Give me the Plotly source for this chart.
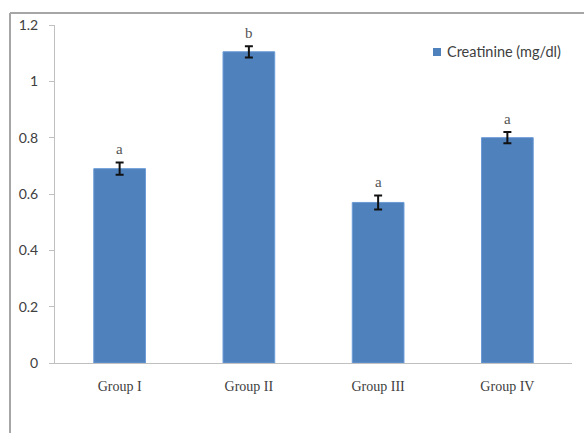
import plotly.graph_objects as go

# Serum creatinine by treatment group
groups = ["Group I", "Group II", "Group III", "Group IV"]
creatinine = [0.69, 1.105, 0.57, 0.80]
sem = [0.022, 0.02, 0.025, 0.02]
sig_letters = ["a", "b", "a", "a"]
series_name = "Creatinine (mg/dl)"

W, H = 584, 433
L, R, T, B = 55, 12, 25, 70
pw, ph = W - L - R, H - T - B
bar_color = "#4F81BD"

fig = go.Figure()
fig.add_trace(go.Bar(
    x=groups, y=creatinine,
    name=series_name,
    marker=dict(color=bar_color, line=dict(color="#6B9BD6", width=1)),
    error_y=dict(type="data", array=sem, visible=True,
                 color="#111111", thickness=2, width=4),
    width=0.4,
    showlegend=False,
))

for g, v, e, s in zip(groups, creatinine, sem, sig_letters):
    fig.add_annotation(x=g, y=v + e, text=s, showarrow=False,
                       yanchor="bottom", yshift=3,
                       font=dict(family="Liberation Serif", size=15, color="#555555"))

def px_x(x):
    return (x - L) / pw

def px_y(y):
    return 1 - (y - T) / ph

# legend key: small square followed by the series name
fig.add_shape(type="rect", xref="paper", yref="paper",
              x0=px_x(433), x1=px_x(441), y0=px_y(56), y1=px_y(48),
              fillcolor=bar_color, line=dict(width=0))
fig.add_annotation(xref="paper", yref="paper", x=px_x(445), y=px_y(52),
                   xanchor="left", yanchor="middle", showarrow=False,
                   text=series_name,
                   font=dict(family="Lato", size=14.5, color="#404040"))

# outer frame (left and top edges)
grey = "#A6A6A6"
fig.add_shape(type="line", xref="paper", yref="paper",
              x0=px_x(10), x1=px_x(10), y0=px_y(H), y1=px_y(13),
              line=dict(color=grey, width=2))
fig.add_shape(type="line", xref="paper", yref="paper",
              x0=px_x(10), x1=px_x(W), y0=px_y(13), y1=px_y(13),
              line=dict(color=grey, width=2))

fig.update_layout(
    width=W, height=H,
    margin=dict(l=L, r=R, t=T, b=B),
    paper_bgcolor="white", plot_bgcolor="white",
    showlegend=False,
    xaxis=dict(showline=True, linecolor="#C0C0C0", linewidth=1,
               ticks="", showgrid=False,
               tickfont=dict(family="Liberation Serif", size=14, color="#404040"),
               ticklabelstandoff=10),
    yaxis=dict(range=[0, 1.2], tickvals=[0, 0.2, 0.4, 0.6, 0.8, 1, 1.2],
               ticktext=["0", "0.2", "0.4", "0.6", "0.8", "1", "1.2"],
               showline=True, linecolor="#C0C0C0", linewidth=1,
               ticks="outside", ticklen=5, tickcolor="#C0C0C0",
               showgrid=False, zeroline=False,
               tickfont=dict(family="Lato", size=14, color="#404040"),
               ticklabelstandoff=8),
)

fig.write_html("out.html")
